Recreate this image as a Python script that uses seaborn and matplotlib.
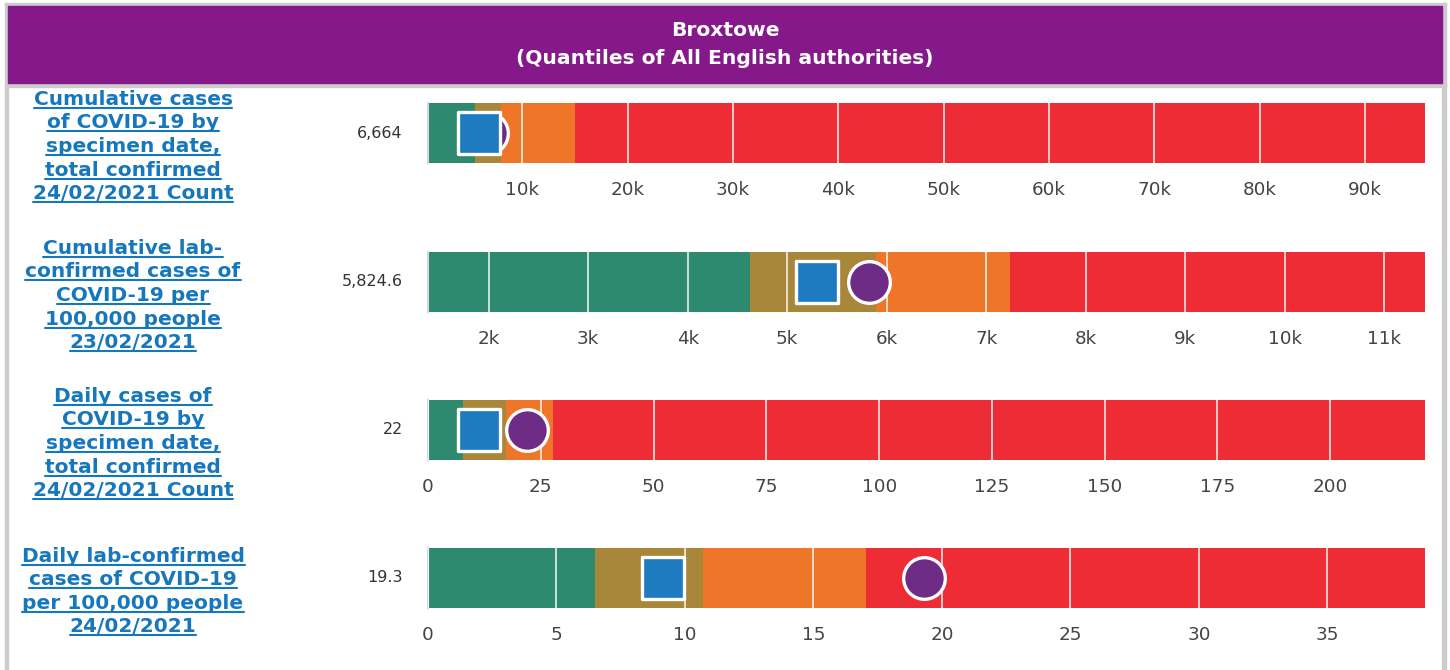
import numpy as np
import pandas as pd
import matplotlib.pyplot as plt
import seaborn as sns
from matplotlib.patches import Rectangle
from matplotlib.lines import Line2D
from matplotlib.ticker import FuncFormatter

sns.set_theme(style='white')
plt.rcParams['font.family'] = ['DejaVu Sans']

title_lines = ['Broxtowe', '(Quantiles of All English authorities)']

metric_labels = [
    ['Cumulative cases', 'of COVID-19 by', 'specimen date,', 'total confirmed', '24/02/2021 Count'],
    ['Cumulative lab-', 'confirmed cases of', 'COVID-19 per', '100,000 people', '23/02/2021'],
    ['Daily cases of', 'COVID-19 by', 'specimen date,', 'total confirmed', '24/02/2021 Count'],
    ['Daily lab-confirmed', 'cases of COVID-19', 'per 100,000 people', '24/02/2021'],
]
value_text = ['6,664', '5,824.6', '22', '19.3']
values = [6664, 5824.6, 22, 19.3]
medians = [5850, 5300, 11.3, 9.15]
axis_min = [1040, 1390, 0, 0]
q1 = [5470, 4625, 7.7, 6.5]
q2 = [7940, 5890, 17.2, 10.7]
q3 = [15030, 7240, 27.8, 17.05]
axis_max = [95700, 11410, 221, 38.8]
ticks = [
    [10000, 20000, 30000, 40000, 50000, 60000, 70000, 80000, 90000],
    [2000, 3000, 4000, 5000, 6000, 7000, 8000, 9000, 10000, 11000],
    [0, 25, 50, 75, 100, 125, 150, 175, 200],
    [0, 5, 10, 15, 20, 25, 30, 35],
]
in_thousands = [True, True, False, False]

band_colors = ['#2e8a6e', '#a8873a', '#ef7628', '#ee2c36']
link_blue = '#1777bd'

W, H = 1450, 670
fig = plt.figure(figsize=(W / 100, H / 100), dpi=100)

def fx(x):
    return x / W

def fy(y):
    return 1 - y / H

# frame + header
grey = '#cccccc'
fig.patches.append(Rectangle((fx(5), 0), fx(3), fy(3), transform=fig.transFigure, color=grey, zorder=0))
fig.patches.append(Rectangle((fx(1442), 0), fx(4), fy(3), transform=fig.transFigure, color=grey, zorder=0))
fig.patches.append(Rectangle((fx(5), fy(6)), fx(1441), 3 / H, transform=fig.transFigure, color=grey, zorder=0))
fig.patches.append(Rectangle((fx(5), fy(87)), fx(1441), 4 / H, transform=fig.transFigure, color=grey, zorder=0))
fig.patches.append(Rectangle((fx(8), fy(83)), fx(1434), 77 / H, transform=fig.transFigure, color='#85198a', zorder=1))
fig.text(fx(725), fy(30), title_lines[0], ha='center', va='center', color='white', fontsize=14.6, fontweight='bold')
fig.text(fx(725), fy(58), title_lines[1], ha='center', va='center', color='white', fontsize=14.6, fontweight='bold')

bar_tops = [103, 252, 400, 548]
bar_h = 60
label_texts = []

for i in range(4):
    ax = fig.add_axes([fx(428), fy(bar_tops[i] + bar_h), fx(1425) - fx(428), bar_h / H])
    df = pd.DataFrame({'band': ['q1', 'q2', 'q3', 'max'],
                       'upper': [q1[i], q2[i], q3[i], axis_max[i]],
                       'row': ['m'] * 4})
    # layer widest first
    for k in [3, 2, 1, 0]:
        sns.barplot(data=df.iloc[[k]], x='upper', y='row', orient='h', color=band_colors[k],
                    saturation=1, width=1, linewidth=0, errorbar=None, ax=ax)
    sns.scatterplot(x=[values[i]], y=[0], marker='o', s=900, color='#6e2c86',
                    edgecolor='white', linewidth=2.4, zorder=4, legend=False, ax=ax)
    sns.scatterplot(x=[medians[i]], y=[0], marker='s', s=880, color='#1e7bc0',
                    edgecolor='white', linewidth=2.4, zorder=5, legend=False, ax=ax)
    ax.set_xlim(axis_min[i], axis_max[i])
    ax.set_ylim(0.5, -0.5)
    ax.set_yticks([])
    ax.set_xlabel('')
    ax.set_ylabel('')
    ax.set_xticks(ticks[i])
    if in_thousands[i]:
        ax.xaxis.set_major_formatter(FuncFormatter(lambda v, p: '%dk' % round(v / 1000)))
    else:
        ax.xaxis.set_major_formatter(FuncFormatter(lambda v, p: '%d' % round(v)))
    ax.tick_params(axis='x', length=0, pad=13, labelsize=13.2, labelcolor='#444444')
    ax.grid(axis='x', color='white', lw=1.3, alpha=0.8)
    ax.set_axisbelow(False)
    for s in ['top', 'right', 'bottom']:
        ax.spines[s].set_visible(False)
    ax.spines['left'].set_color('#d3d6e6')
    ax.spines['left'].set_linewidth(1.5)
    ax.annotate(value_text[i], xy=(0, 0.5), xycoords='axes fraction', xytext=(-18, 0),
                textcoords='offset points', ha='right', va='center', fontsize=11.5, color='#333333')

    # left metric name, underlined like a link
    lines = metric_labels[i]
    n = len(lines)
    center = bar_tops[i] + bar_h / 2 + 12
    for k, line in enumerate(lines):
        base = center + (k - (n - 1) / 2) * 23.6 + 7
        t = fig.text(fx(133), fy(base), line, ha='center', va='baseline', fontsize=14.5,
                     fontweight='bold', color=link_blue)
        label_texts.append((t, base))

fig.canvas.draw()
renderer = fig.canvas.get_renderer()
for t, base in label_texts:
    bb = t.get_window_extent(renderer)
    y = fy(base + 3)
    fig.add_artist(Line2D([bb.x0 / W, bb.x1 / W], [y, y], transform=fig.transFigure,
                          color=link_blue, lw=1.5))

plt.savefig('out.png', dpi=100)
